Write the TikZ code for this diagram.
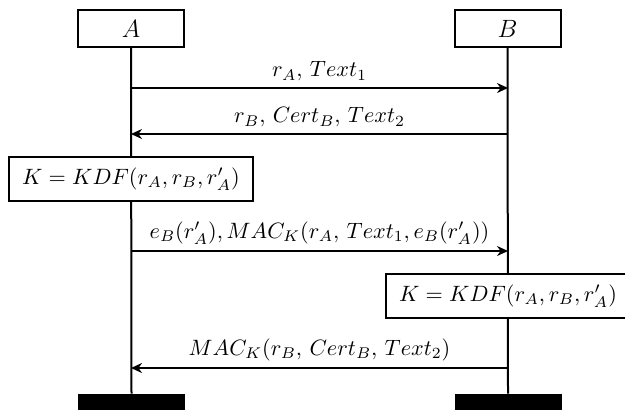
\RequirePackage{fix-cm}
\documentclass[tikz,border=0pt]{standalone}
\usetikzlibrary{arrows.meta}
\begin{document}
\begin{tikzpicture}[x=0.5pt,y=-0.5pt,
  actor/.style={draw,line width=1pt,minimum width=53pt,minimum height=18.5pt,inner sep=0pt,fill=white,font=\fontsize{12.5}{14}\selectfont},
  calc/.style={draw,line width=1pt,minimum width=122pt,minimum height=22pt,inner sep=0pt,fill=white,font=\fontsize{11.1}{13}\selectfont},
  endbar/.style={fill=black,minimum width=53.5pt,minimum height=10pt,inner sep=0pt},
  life/.style={line width=1pt},
  msg/.style={line width=0.8pt,-{Stealth[length=5.5pt,width=5pt]}},
  lbl/.style={above=2pt,inner sep=1pt,font=\fontsize{11.1}{13}\selectfont}]
\useasboundingbox (0,0) rectangle (625,409);
\node[actor] (A) at (131,28.5) {$A$};
\node[actor] (B) at (507.5,28.5) {$B$};
\node[endbar] (EA) at (131.5,404) {};
\node[endbar] (EB) at (508,404) {};
\draw[life] (A.south) -- (EA.north);
\draw[life] (B.south) -- (EB.north);
\coordinate (a1) at (131,88); \coordinate (b1) at (508,88);
\coordinate (a2) at (131,134); \coordinate (b2) at (508,134);
\coordinate (a3) at (131,251); \coordinate (b3) at (508,251);
\coordinate (a4) at (131,368); \coordinate (b4) at (508,368);
\node[calc] (KA) at (131,179) {$K = KDF(r_A, r_B, r'_A)$};
\node[calc] (KB) at (508,296) {$K = KDF(r_A, r_B, r'_A)$};
\draw[msg] (a1) -- node[lbl] {$r_A,\, Text_1$} (b1);
\draw[msg] (b2) -- node[lbl] {$r_B,\, Cert_B,\, Text_2$} (a2);
\draw[msg] (a3) -- node[lbl] {$e_B(r'_A), MAC_K(r_A,\, Text_1, e_B(r'_A))$} (b3);
\draw[msg] (b4) -- node[lbl] {$MAC_K(r_B,\, Cert_B,\, Text_2)$} (a4);
\end{tikzpicture}
\end{document}
